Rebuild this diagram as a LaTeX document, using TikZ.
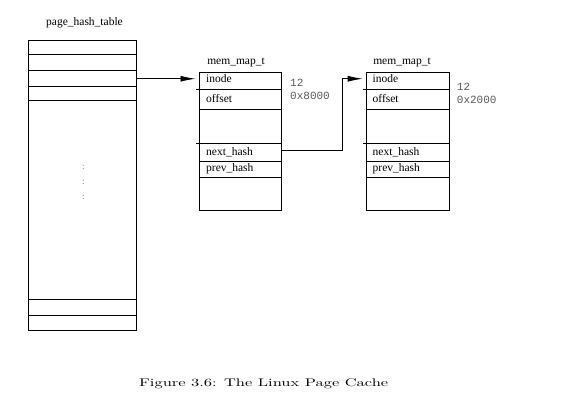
\documentclass[tikz,border=0pt]{standalone}
\usepackage{fontspec}
\setmainfont{Liberation Serif}
\newfontfamily\capfont{Latin Modern Roman}
\newfontfamily\monofont{Liberation Mono}
\usetikzlibrary{arrows.meta}
\begin{document}
\begin{tikzpicture}[x=1pt,y=-1pt,
  cell/.style={draw=black,line width=0.9pt,inner sep=0pt,anchor=north west},
  lbl/.style={font=\fontsize{11.5}{13}\selectfont,inner sep=0pt,anchor=base west},
  ttl/.style={font=\fontsize{11.5}{13}\selectfont,inner sep=0pt,anchor=base},
  val/.style={font=\monofont\fontsize{11}{13}\selectfont,text=black!65,inner sep=0pt,anchor=base west},
  dots/.style={font=\fontsize{9}{10}\selectfont,text=black!60,inner sep=0pt},
  arr/.style={line width=0.9pt,-{Latex[length=15pt,width=6pt]}}]
\useasboundingbox (0,0) rectangle (573,406);
% page hash table
\node[ttl] (pht) at (84.5,26) {page\_hash\_table};
\node[cell,minimum width=107.7pt,minimum height=14.3pt] (t1) at (28,40) {};
\node[cell,minimum width=107.7pt,minimum height=16pt] (t2) at (28,54.3) {};
\node[cell,minimum width=107.7pt,minimum height=15.4pt] (t3) at (28,70.3) {};
\node[cell,minimum width=107.7pt,minimum height=14.3pt] (t4) at (28,85.7) {};
\node[cell,minimum width=107.7pt,minimum height=199.3pt] (t5) at (28,100) {};
\node[cell,minimum width=107.7pt,minimum height=15.7pt] (t6) at (28,299.3) {};
\node[cell,minimum width=107.7pt,minimum height=15.3pt] (t7) at (28,315) {};
\node[dots] (d1) at (83.3,167) {:};
\node[dots] (d2) at (83.3,182) {:};
\node[dots] (d3) at (83.3,197) {:};
% mem_map_t 1
\node[ttl] (m1) at (236,65) {mem\_map\_t};
\node[cell,minimum width=82pt,minimum height=17.6pt] (a1) at (199,71.7) {};
\node[cell,minimum width=82pt,minimum height=20pt] (a2) at (199,89.3) {};
\node[cell,minimum width=82pt,minimum height=34pt] (a3) at (199,109.3) {};
\node[cell,minimum width=82pt,minimum height=17.4pt] (a4) at (199,143.3) {};
\node[cell,minimum width=82pt,minimum height=16.6pt] (a5) at (199,160.7) {};
\node[cell,minimum width=82pt,minimum height=32.7pt] (a6) at (199,177.3) {};
\draw[line width=0.9pt] (a2.north west) -- ++(-3,0);
\draw[line width=0.9pt] (a4.north west) -- ++(-3,0);
\node[lbl] (a1t) at (206,82.7) {inode};
\node[lbl] (a2t) at (206,103) {offset};
\node[lbl] (a4t) at (206,156) {next\_hash};
\node[lbl] (a5t) at (206,172) {prev\_hash};
\node[val] (v1) at (290,86.7) {12};
\node[val] (v2) at (290,99.3) {0x8000};
% mem_map_t 2
\node[ttl] (m2) at (402,65) {mem\_map\_t};
\node[cell,minimum width=83.3pt,minimum height=17.6pt] (b1) at (365.7,71.7) {};
\node[cell,minimum width=83.3pt,minimum height=20pt] (b2) at (365.7,89.3) {};
\node[cell,minimum width=83.3pt,minimum height=34pt] (b3) at (365.7,109.3) {};
\node[cell,minimum width=83.3pt,minimum height=17.4pt] (b4) at (365.7,143.3) {};
\node[cell,minimum width=83.3pt,minimum height=16.6pt] (b5) at (365.7,160.7) {};
\node[cell,minimum width=83.3pt,minimum height=32.7pt] (b6) at (365.7,177.3) {};
\draw[line width=0.9pt] (b2.north west) -- ++(-3,0);
\draw[line width=0.9pt] (b4.north west) -- ++(-3,0);
\node[lbl] (b1t) at (372.5,82.7) {inode};
\node[lbl] (b2t) at (372.5,103) {offset};
\node[lbl] (b4t) at (372.5,156) {next\_hash};
\node[lbl] (b5t) at (372.5,172) {prev\_hash};
\node[val] (w1) at (456.7,91) {12};
\node[val] (w2) at (456.7,104) {0x2000};
% connectors
\coordinate (bend) at (342.7,154.3);
\draw[arr,shorten >=3.5pt] ([yshift=-0.3pt]t3.east) -- ([yshift=-0.3pt]t3.east -| a1.west);
\draw[arr,shorten >=3pt] ([yshift=2.3pt]a4.east) -- ([yshift=2.3pt]a4.east -| bend) |- ([yshift=-0.3pt]t3.east -| b1.west);
% caption
\node[inner sep=0pt,anchor=base west] (cap) at (139,386) {\capfont\resizebox{249pt}{7.8pt}{Figure 3.6: The Linux Page Cache}};
\end{tikzpicture}
\end{document}
